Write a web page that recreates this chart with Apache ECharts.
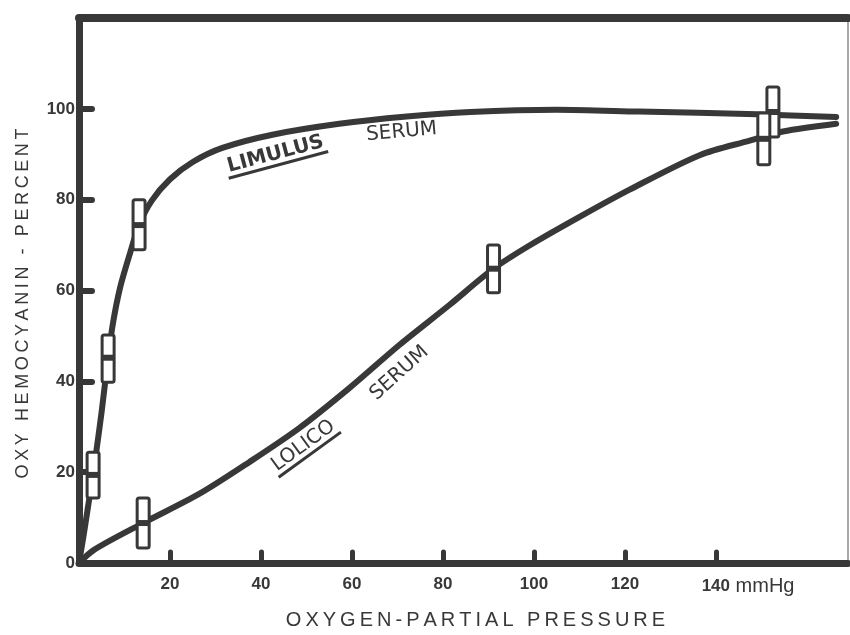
<!DOCTYPE html>
<html>
<head>
<meta charset="utf-8">
<script src="https://cdn.jsdelivr.net/npm/echarts@6/dist/echarts.min.js"></script>
<style>
  html, body { margin: 0; padding: 0; background: #ffffff; }
  #chart { width: 850px; height: 635px; }
</style>
</head>
<body>
<div id="chart"></div>
<script>
// Oxygen dissociation curves of hemocyanin (oxy-hemocyanin % vs O2 partial pressure)
const xTicks = [20, 40, 60, 80, 100, 120, 140];
const yTicks = [0, 20, 40, 60, 80, 100];

// Limulus serum curve
const limulusP   = [0, 1.0, 2.0, 3.1, 4.0, 5.0, 6.4, 7.5, 9.0, 11.0, 13.2, 16.0, 20.0, 25.0, 31.5, 42.5, 57.2, 72, 86, 105, 123, 149, 166.4];
const limulusSat = [0, 6.0, 12.5, 19.4, 26.0, 33.5, 45.2, 53.0, 60.5, 67.5, 74.4, 79.8, 84.5, 88.3, 91.4, 94.3, 96.7, 98.3, 99.3, 99.8, 99.4, 98.8, 98.2];

// Lolico serum curve
const lolicoP   = [0, 3.3, 14.1, 26.4, 37.4, 48.4, 59.4, 70.4, 81.4, 91.1, 99.0, 110, 121, 136.4, 147.4, 154.7, 166.4];
const lolicoSat = [0, 2.9, 8.8, 15.2, 22.2, 29.7, 38.5, 48.0, 56.8, 64.8, 69.9, 76.2, 82.2, 89.8, 93.0, 95.0, 96.7];

// Measured ranges: pressure, mean, low, high
const limulusBoxP    = [3.1, 6.4, 13.2, 152.5];
const limulusBoxMid  = [19.4, 45.2, 74.4, 99.3];
const limulusBoxLow  = [14.3, 39.8, 69.0, 93.8];
const limulusBoxHigh = [24.4, 50.2, 80.0, 104.8];

const lolicoBoxP    = [14.1, 91.1, 150.5];
const lolicoBoxMid  = [8.8, 64.8, 93.4];
const lolicoBoxLow  = [3.3, 59.5, 87.7];
const lolicoBoxHigh = [14.3, 70.0, 99.1];

// Curve annotations: pressure, saturation, text, tilt (deg), weight, underline
const noteP      = [43.2, 70.9, 49.3, 70.4];
const noteSat    = [90.0, 94.9, 25.8, 41.8];
const noteText   = ['LIMULUS', 'SERUM', 'LOLICO', 'SERUM'];
const noteAngle  = [15, 5, 36, 42];
const noteBold   = [1, 0, 0, 0];
const noteUnder  = [1, 0, 1, 0];

const INK = '#383838';
const SANS = '"Liberation Sans", Arial, sans-serif';
const noteFont = i => (noteBold[i] ? 'bold ' : '') + '20px "DejaVu Sans", sans-serif';

const spaced = s => s.split('').join('\u2009');

const zip = (a, b) => a.map((v, i) => [v, b[i]]);

const measure = (() => {
  const ctx = document.createElement('canvas').getContext('2d');
  return (text, font) => { ctx.font = font; return ctx.measureText(text).width; };
})();

const chart = echarts.init(document.getElementById('chart'), null, { renderer: 'canvas' });

function boxRenderer(params, api) {
  const x = api.value(0);
  const top = api.coord([x, api.value(3)]);
  const bot = api.coord([x, api.value(2)]);
  const mid = api.coord([x, api.value(1)]);
  const w = 12;
  return {
    type: 'group',
    children: [
      { type: 'rect',
        shape: { x: top[0] - w / 2, y: top[1], width: w, height: bot[1] - top[1], r: 2 },
        style: { fill: '#ffffff', stroke: INK, lineWidth: 3 } },
      { type: 'line',
        shape: { x1: mid[0] - w / 2, y1: mid[1], x2: mid[0] + w / 2, y2: mid[1] },
        style: { stroke: INK, lineWidth: 6 } }
    ]
  };
}

// Tilted curve names; the species names carry an underline
function noteRenderer(params, api) {
  const i = params.dataIndex;
  const p = api.coord([api.value(0), api.value(1)]);
  const text = noteText[i];
  const font = noteFont(i);
  const w = measure(text, font);
  const children = [
    { type: 'text',
      style: { text: text, x: 0, y: 0, align: 'center', verticalAlign: 'middle',
               font: font, fill: INK } }
  ];
  if (noteUnder[i]) {
    children.push({ type: 'line',
      shape: { x1: -w / 2 - 2, y1: 11, x2: w / 2 + 2, y2: 11 },
      style: { stroke: INK, lineWidth: 3 } });
  }
  return { type: 'group', x: p[0], y: p[1], rotation: noteAngle[i] * Math.PI / 180, children };
}

const option = {
  backgroundColor: '#ffffff',
  animation: false,
  grid: { left: 79, right: 2, top: 18, bottom: 72, containLabel: false },
  xAxis: [
    {
      type: 'value', min: 0, max: 169, position: 'bottom',
      name: spaced('OXYGEN-PARTIAL PRESSURE'),
      nameLocation: 'middle', nameGap: 47,
      nameTextStyle: { fontFamily: SANS, fontSize: 20, color: INK, padding: [0, 0, 0, 24] },
      axisLine: { show: true, onZero: false, lineStyle: { color: INK, width: 7 } },
      axisTick: { show: true, inside: true, length: 11, customValues: xTicks,
                  lineStyle: { color: INK, width: 5, cap: 'round' } },
      axisLabel: {
        customValues: xTicks, margin: 13, color: INK,
        fontFamily: SANS, fontSize: 17, fontWeight: 'bold',
        formatter: v => v === 140 ? '{pad|}{n|140}{u| mmHg}' : String(v),
        rich: {
          pad: { width: 64 },
          n: { fontFamily: SANS, fontSize: 17, fontWeight: 'bold', color: INK },
          u: { fontFamily: SANS, fontSize: 20, fontWeight: 'normal', color: INK }
        }
      },
      splitLine: { show: false }
    },
    {
      type: 'value', min: 0, max: 169, position: 'top',
      axisLine: { show: true, onZero: false, lineStyle: { color: INK, width: 8 } },
      axisTick: { show: false }, axisLabel: { show: false }, splitLine: { show: false }
    }
  ],
  yAxis: [
    {
      type: 'value', min: 0, max: 120, position: 'left',
      name: spaced('OXY HEMOCYANIN - PERCENT'),
      nameLocation: 'middle', nameGap: 47, nameRotate: 90,
      nameTextStyle: { fontFamily: SANS, fontSize: 18, color: INK, padding: [0, 26, 0, 0] },
      axisLine: { show: true, onZero: false, lineStyle: { color: INK, width: 7 } },
      axisTick: { show: true, inside: true, length: 13, customValues: yTicks,
                  lineStyle: { color: INK, width: 6, cap: 'round' } },
      axisLabel: {
        customValues: yTicks, margin: 4, color: INK,
        fontFamily: SANS, fontSize: 17, fontWeight: 'bold'
      },
      splitLine: { show: false }
    },
    {
      type: 'value', min: 0, max: 120, position: 'right',
      axisLine: { show: true, onZero: false, lineStyle: { color: '#8a8a8a', width: 1.5 } },
      axisTick: { show: false }, axisLabel: { show: false }, splitLine: { show: false }
    }
  ],
  series: [
    {
      name: 'Limulus serum', type: 'line', xAxisIndex: 0, yAxisIndex: 0,
      data: zip(limulusP, limulusSat), smooth: 0.3,
      showSymbol: false, symbol: 'none',
      lineStyle: { color: INK, width: 6, cap: 'round', join: 'round' }, z: 3
    },
    {
      name: 'Lolico serum', type: 'line', xAxisIndex: 0, yAxisIndex: 0,
      data: zip(lolicoP, lolicoSat), smooth: 0.3,
      showSymbol: false, symbol: 'none',
      lineStyle: { color: INK, width: 6, cap: 'round', join: 'round' }, z: 3
    },
    {
      name: 'Limulus range', type: 'custom', renderItem: boxRenderer, z: 5,
      data: limulusBoxP.map((p, i) => [p, limulusBoxMid[i], limulusBoxLow[i], limulusBoxHigh[i]])
    },
    {
      name: 'Lolico range', type: 'custom', renderItem: boxRenderer, z: 5,
      data: lolicoBoxP.map((p, i) => [p, lolicoBoxMid[i], lolicoBoxLow[i], lolicoBoxHigh[i]])
    },
    {
      name: 'Notes', type: 'custom', renderItem: noteRenderer, z: 6,
      data: noteP.map((p, i) => [p, noteSat[i]])
    }
  ]
};

chart.setOption(option);
</script>
</body>
</html>
